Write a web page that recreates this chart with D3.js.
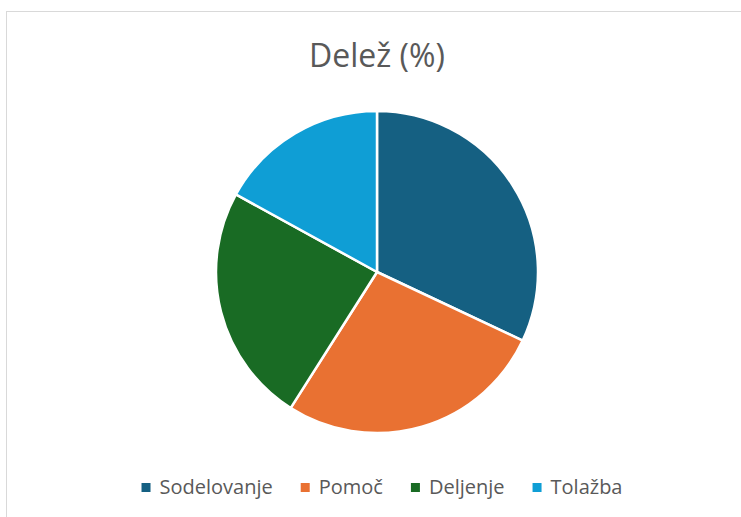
<!DOCTYPE html>
<html>
<head>
<meta charset="utf-8">
<script src="https://cdn.jsdelivr.net/npm/d3@7"></script>
<style>
  html, body { margin: 0; padding: 0; background: #ffffff; }
  svg { display: block; }
  text { font-family: "Open Sans", "Noto Sans", sans-serif; }
</style>
</head>
<body>
<svg id="chart" width="741" height="517"></svg>
<script>
const title = "Delež (%)";
const categories = ["Sodelovanje", "Pomoč", "Deljenje", "Tolažba"];
const values = [32, 27, 24, 17];
const colors = ["#156082", "#E97132", "#196B24", "#0F9ED5"];

const W = 741, H = 517;
const svg = d3.select("#chart");

// chart area border (top and left visible)
svg.append("rect")
  .attr("x", 6.5).attr("y", 11.5)
  .attr("width", W + 10).attr("height", H + 10)
  .attr("fill", "#ffffff")
  .attr("stroke", "#d9d9d9")
  .attr("stroke-width", 1);

// title
svg.append("text")
  .attr("x", 377).attr("y", 67)
  .attr("text-anchor", "middle")
  .attr("fill", "#595959")
  .attr("font-size", 32)
  .text(title);

// pie
const cx = 377, cy = 272, r = 161;
const pie = d3.pie().sort(null).value(d => d.v);
const arc = d3.arc().innerRadius(0).outerRadius(r);
const data = categories.map((c, i) => ({ c, v: values[i] }));

const color = d3.scaleOrdinal().domain(categories).range(colors);

svg.append("g")
  .attr("transform", `translate(${cx},${cy})`)
  .selectAll("path")
  .data(pie(data))
  .join("path")
  .attr("d", arc)
  .attr("fill", d => color(d.data.c))
  .attr("stroke", "#ffffff")
  .attr("stroke-width", 2.5)
  .attr("stroke-linejoin", "round");

// legend
const legendY = 494; // text baseline
const fs = 20;
const sq = 9, gapSqText = 9, gapItems = 28;
const lg = svg.append("g");
const items = lg.selectAll("g").data(categories).join("g");
items.append("rect")
  .attr("width", sq).attr("height", sq)
  .attr("y", legendY - 11)
  .attr("fill", d => color(d));
items.append("text")
  .attr("x", sq + gapSqText)
  .attr("y", legendY)
  .attr("font-size", fs)
  .attr("fill", "#595959")
  .text(d => d);

let x = 0;
const positions = [];
items.each(function() {
  const tw = d3.select(this).select("text").node().getComputedTextLength();
  positions.push(x);
  x += sq + gapSqText + tw + gapItems;
});
const total = x - gapItems;
const startX = 382 - total / 2;
items.attr("transform", (d, i) => `translate(${startX + positions[i]},0)`);
</script>
</body>
</html>
